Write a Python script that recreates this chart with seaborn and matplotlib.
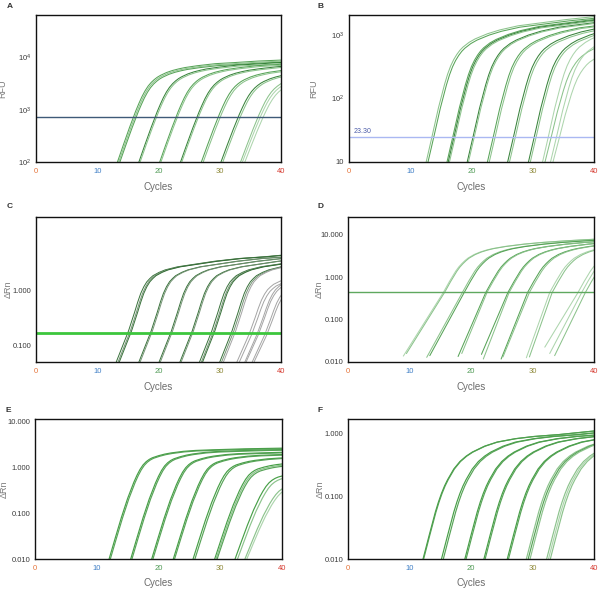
import numpy as np
import pandas as pd
import matplotlib
matplotlib.use("Agg")
import matplotlib.pyplot as plt
import seaborn as sns
from matplotlib.ticker import FixedLocator, NullLocator

sns.set_style("white")
plt.rcParams["font.family"] = ["Liberation Sans", "DejaVu Sans"]

# ---------------- data ----------------
x_ticks = [0, 10, 20, 30, 40]
x_tick_labels = ["0", "10", "20", "30", "40"]

# Panel A (RFU): read curve shape (cycles after entering bottom, log10 RFU)
A_rel = [0, 1, 2, 3, 3.5, 4, 4.5, 5, 5.5, 6, 6.5, 7, 8, 9, 10, 11, 13, 16, 19, 23, 27]
A_log = [2.00, 2.34, 2.67, 2.98, 3.12, 3.25, 3.36, 3.45, 3.52, 3.575, 3.62, 3.655, 3.71, 3.75,
         3.78, 3.805, 3.84, 3.88, 3.90, 3.93, 3.95]
A_entry = [13.3, 13.5, 13.7, 16.8, 17.0, 20.2, 20.4, 23.6, 23.8, 27.0, 27.3, 30.2, 30.5, 33.4, 33.7, 34.1]
A_k = [1.0, 0.99, 0.98, 0.985, 0.975, 0.98, 0.97, 0.97, 0.96, 0.95, 0.94, 0.93, 0.92, 0.92, 0.90, 0.88]
A_threshold = 720
A_yticks = [1e2, 1e3, 1e4]
A_ylabels = [r"$\mathregular{10^2}$", r"$\mathregular{10^3}$", r"$\mathregular{10^4}$"]

# Panel B (RFU)
B_rel = [0, 1, 2, 3, 3.5, 4, 4.5, 5, 5.5, 6, 7, 8, 10, 12, 15, 19, 23, 28]
B_log = [1.00, 1.42, 1.85, 2.22, 2.38, 2.51, 2.61, 2.69, 2.755, 2.805, 2.88, 2.935, 3.015, 3.075,
         3.14, 3.19, 3.24, 3.29]
B_entry = [12.6, 12.9, 16.0, 16.2, 16.4, 19.3, 19.5, 22.6, 22.9, 25.9, 26.2, 29.3, 29.6, 31.6, 32.0, 32.9, 33.3]
B_k = [1.0, 0.99, 0.995, 0.99, 0.985, 0.99, 0.985, 0.985, 0.98, 0.985, 0.975, 0.99, 0.98, 1.0, 0.92, 0.96, 0.87]
B_threshold = 24.5
B_threshold_label = "23.30"
B_yticks = [10, 1e2, 1e3]
B_ylabels = ["10", r"$\mathregular{10^2}$", r"$\mathregular{10^3}$"]

# Panel C (dRn)
C_rel = [0, 1, 2, 3, 3.5, 4, 4.5, 5, 5.5, 6, 7, 8, 10, 13, 16, 20, 24, 27]
C_log = [-1.30, -1.02, -0.74, -0.40, -0.22, -0.06, 0.06, 0.15, 0.21, 0.26, 0.32, 0.365, 0.42,
         0.47, 0.52, 0.57, 0.60, 0.63]
C_entry = [13.1, 13.4, 13.6, 16.8, 17.0, 20.1, 20.3, 23.5, 23.7, 26.7, 27.0, 27.2,
           30.0, 30.3, 30.6, 32.8, 33.2, 34.1, 34.3, 35.3, 35.6]
C_k = [1.0] * 15 + [0.90, 0.88, 0.90, 0.88, 0.86, 0.84]
C_threshold = 0.17
C_yticks = [0.1, 1.0]
C_ylabels = ["0.100", "1.000"]

# Panel D (dRn): start point of each curve, threshold cycle, and shape above threshold
D_rel = [0, 1, 2, 2.5, 3, 3.5, 4, 5, 6, 7, 8, 10, 13, 16, 20, 25]
D_log = [-0.36, -0.10, 0.14, 0.24, 0.32, 0.39, 0.45, 0.535, 0.595, 0.64, 0.675, 0.725, 0.78,
         0.82, 0.86, 0.90]
D_ct = [15.5, 15.7, 18.6, 18.9, 22.4, 22.6, 26.0, 26.2, 29.2, 29.5, 32.8, 33.2, 37.4, 38.0, 38.6]
D_start_cycle = [9.0, 9.5, 12.8, 13.3, 17.9, 18.5, 21.7, 22.0, 24.9, 25.2, 29.0, 29.5, 32.0, 32.8, 33.6]
D_start_log = [-1.86, -1.80, -1.89, -1.85, -1.87, -1.80, -1.82, -1.93, -1.93, -1.88, -1.90, -1.88, -1.65, -1.80, -1.85]
D_threshold = 0.44
D_yticks = [0.01, 0.1, 1.0, 10.0]
D_ylabels = ["0.010", "0.100", "1.000", "10.000"]

# Panel E (dRn)
E_rel = [0, 1, 2, 3, 4, 4.5, 5, 5.5, 6, 6.5, 7, 8, 9, 10, 12, 14, 17, 22, 28]
E_log = [-2.0, -1.54, -1.09, -0.68, -0.33, -0.18, -0.05, 0.05, 0.12, 0.17, 0.205, 0.25, 0.285,
         0.31, 0.345, 0.365, 0.38, 0.40, 0.415]
E_entry = [12.0, 12.2, 15.5, 15.7, 18.9, 19.1, 22.4, 22.6, 25.6, 25.9, 29.1, 29.3, 29.5, 32.4, 32.8, 34.0, 34.3]
E_k = [1.0, 0.995, 0.99, 0.985, 0.97, 0.965, 0.955, 0.95, 0.93, 0.925, 0.89, 0.88, 0.87, 0.81, 0.79, 0.72, 0.70]
E_yticks = [0.01, 0.1, 1.0, 10.0]
E_ylabels = ["0.010", "0.100", "1.000", "10.000"]

# Panel F (dRn)
F_rel = [0, 1, 2, 2.5, 3, 3.5, 4, 5, 6, 7, 8, 10, 12, 15, 18, 22, 28]
F_log = [-2.0, -1.62, -1.25, -1.09, -0.95, -0.83, -0.73, -0.56, -0.44, -0.355, -0.29, -0.195,
         -0.13, -0.075, -0.04, -0.01, 0.05]
F_entry = [12.2, 12.3, 15.2, 15.5, 19.0, 19.2, 22.1, 22.3, 25.9, 26.1, 29.0, 29.3, 29.6, 32.3, 32.6, 32.9]
F_k = [1.0] * 16
F_yticks = [0.01, 0.1, 1.0]
F_ylabels = ["0.010", "0.100", "1.000"]

# ---------------- styles ----------------
XTICK_COLORS = ["#e5743a", "#3f7fc6", "#4f9a55", "#8f8a3a", "#d63a30"]
DARK, MID, LIGHT, PALE, GRAY = "#2f7d32", "#4f9f4f", "#86c086", "#a9d3a9", "#a0a0a0"


def build_frame(rel, logs, entries, ks, base):
    rows = []
    rel = np.asarray(rel, float)
    logs = np.asarray(logs, float)
    for i, (e, k) in enumerate(zip(entries, ks)):
        yl = base + k * (logs - base)
        for x, y in zip(rel + e, yl):
            rows.append((i, x, 10 ** y))
    return pd.DataFrame(rows, columns=["curve", "cycle", "value"])


def build_frame_d():
    rows = []
    rel = np.asarray(D_rel, float)
    for i, (ct, sc, sl) in enumerate(zip(D_ct, D_start_cycle, D_start_log)):
        rows.append((i, sc, 10 ** sl))
        for x, y in zip(rel + ct, D_log):
            rows.append((i, x, 10 ** y))
    return pd.DataFrame(rows, columns=["curve", "cycle", "value"])


def style(ax, ylim, yticks, ylabels, ylabel, label_x):
    ax.set_yscale("log")
    ax.set_xlim(0, 40)
    ax.set_ylim(*ylim)
    ax.yaxis.set_major_locator(FixedLocator(yticks))
    ax.set_yticklabels(ylabels)
    ax.yaxis.set_minor_locator(NullLocator())
    ax.set_xticks(x_ticks)
    ax.set_xticklabels(x_tick_labels)
    for lab, c in zip(ax.get_xticklabels(), XTICK_COLORS):
        lab.set_color(c)
    ax.tick_params(axis="x", length=0, pad=4, labelsize=5.5)
    ax.tick_params(axis="y", length=3, width=0.9, pad=0.5, labelsize=5.5, colors="#222", labelcolor="#3a3a3a")
    for s in ax.spines.values():
        s.set_visible(True)
        s.set_color("#111")
        s.set_linewidth(1.0)
    ax.set_xlabel("Cycles", fontsize=7, color="#6a6a6a", labelpad=5)
    ax.set_ylabel(ylabel, fontsize=6.5, color="#7a7a7a")
    ax.yaxis.set_label_coords(label_x, 0.5)


def draw(ax, df, colors, lw=0.8, alpha=0.95):
    sns.lineplot(data=df, x="cycle", y="value", hue="curve", palette=colors,
                 legend=False, estimator=None, lw=lw, alpha=alpha, ax=ax, sort=True)


fig = plt.figure(figsize=(6.0, 5.9), dpi=100)
W, H = 600.0, 590.0


def add_axes(x0, x1, y0, y1):
    return fig.add_axes([x0 / W, 1 - y1 / H, (x1 - x0) / W, (y1 - y0) / H])


axA = add_axes(36, 281, 15, 162)
axB = add_axes(349, 594, 15, 162)
axC = add_axes(36, 281, 217, 362)
axD = add_axes(348, 594, 217, 362)
axE = add_axes(35, 282, 419, 559)
axF = add_axes(348, 594, 419, 559)

# A
colA = [MID, LIGHT, MID, DARK, LIGHT, MID, LIGHT, DARK, LIGHT, MID, LIGHT, DARK, LIGHT, LIGHT, PALE, PALE]
draw(axA, build_frame(A_rel, A_log, A_entry, A_k, 2.0), colA, lw=0.75)
axA.axhline(A_threshold, color="#3f5a78", lw=1.0)
style(axA, (10 ** 2.0, 10 ** 4.81), A_yticks, A_ylabels, "RFU", -0.116)

# B
colB = [LIGHT, MID, MID, DARK, LIGHT, DARK, LIGHT, MID, LIGHT, DARK, LIGHT, DARK, LIGHT, PALE, LIGHT, PALE, PALE]
draw(axB, build_frame(B_rel, B_log, B_entry, B_k, 1.0), colB, lw=0.75)
axB.axhline(B_threshold, color="#aab8f2", lw=1.0)
axB.text(0.7, B_threshold * 1.1, B_threshold_label, fontsize=5, color="#4a5aa8", va="bottom")
style(axB, (10 ** 1.0, 10 ** 3.31), B_yticks, B_ylabels, "RFU", -0.127)

# C
CD = "#2e6a30"
CG = "#6f8f6f"
colC = [CD, CG, CD, CD, CG, CD, CG, CD, CG, CD, CG, CD, CD, CG, GRAY, GRAY, GRAY, GRAY, GRAY, GRAY, GRAY]
draw(axC, build_frame(C_rel, C_log, C_entry, C_k, -1.30), colC, lw=0.7)
axC.axhline(C_threshold, color="#3cc63c", lw=2.0)
style(axC, (10 ** -1.30, 10 ** 1.32), C_yticks, C_ylabels, "ΔRn", -0.094)

# D
colD = [PALE, LIGHT, LIGHT, MID, MID, LIGHT, MID, LIGHT, MID, LIGHT, PALE, LIGHT, PALE, PALE, LIGHT]
draw(axD, build_frame_d(), colD, lw=0.75)
axD.axhline(D_threshold, color="#5fa85f", lw=1.0)
style(axD, (10 ** -2.0, 10 ** 1.42), D_yticks, D_ylabels, "ΔRn", -0.098)

# E
EG = "#3d9a3d"
colE = [EG, MID, EG, MID, EG, MID, EG, MID, EG, MID, EG, LIGHT, MID, EG, LIGHT, LIGHT, PALE]
draw(axE, build_frame(E_rel, E_log, E_entry, E_k, -2.0), colE, lw=0.85)
style(axE, (10 ** -2.0, 10 ** 1.05), E_yticks, E_ylabels, "ΔRn", -0.107)

# F
colF = [EG, MID, EG, MID, EG, MID, EG, MID, EG, MID, LIGHT, MID, LIGHT, LIGHT, PALE, LIGHT]
draw(axF, build_frame(F_rel, F_log, F_entry, F_k, -2.0), colF, lw=0.85)
style(axF, (10 ** -2.0, 10 ** 0.24), F_yticks, F_ylabels, "ΔRn", -0.093)

for letter, (px, py) in zip("ABCDEF", [(7, 6), (318, 6), (7, 207), (318, 207), (6, 410), (318, 410)]):
    fig.text(px / W, 1 - py / H, letter, fontsize=6, fontweight="bold", color="#333", va="center", ha="left")

fig.savefig("out.png", dpi=100)
